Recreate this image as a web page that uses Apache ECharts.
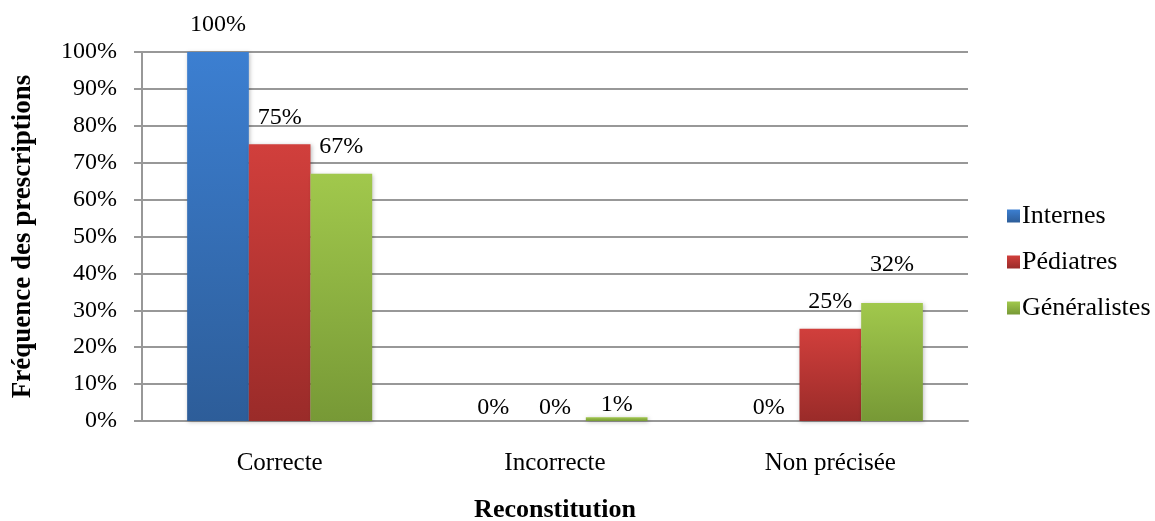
<!DOCTYPE html>
<html><head><meta charset="utf-8">
<script src="https://cdn.jsdelivr.net/npm/echarts@6/dist/echarts.min.js"></script>
<style>html,body{margin:0;padding:0;background:#fff}#c{width:1155px;height:521px}</style>
</head><body><div id="c"></div>
<script>
const categories = ['Correcte', 'Incorrecte', 'Non précisée'];
const seriesNames = ['Internes', 'Pédiatres', 'Généralistes'];
const internes = [100, 0, 0];
const pediatres = [75, 0, 25];
const generalistes = [67, 1, 32];
const yTicks = [0, 10, 20, 30, 40, 50, 60, 70, 80, 90, 100];

const FONT = '"Liberation Serif", "Times New Roman", serif';
const grads = [
  ['#3c7fd1', '#2d5d99'],
  ['#d13f3c', '#9a2b29'],
  ['#a1c84c', '#779936']
];
function grad(i) {
  return new echarts.graphic.LinearGradient(0, 0, 0, 1, [
    {offset: 0, color: grads[i][0]}, {offset: 1, color: grads[i][1]}
  ]);
}
const values = [internes, pediatres, generalistes];
const chart = echarts.init(document.getElementById('c'), null, {renderer: 'canvas'});
chart.setOption({
  animation: false,
  textStyle: {fontFamily: FONT, color: '#000'},
  grid: {left: 142, right: 187, top: 52, bottom: 100, containLabel: false, outerBoundsMode: 'none'},
  legend: {
    orient: 'vertical', left: 1002, top: 198, itemGap: 20, itemWidth: 13, itemHeight: 13,
    icon: 'rect',
    textStyle: {fontFamily: FONT, fontSize: 26, color: '#000', padding: [0, 0, 0, -3]},
    data: seriesNames
  },
  xAxis: {
    type: 'category', data: categories,
    name: 'Reconstitution', nameLocation: 'middle', nameGap: 76,
    nameTextStyle: {fontFamily: FONT, fontSize: 26, fontWeight: 'bold', color: '#000'},
    axisLine: {lineStyle: {color: '#989898', width: 2}},
    axisTick: {show: false},
    axisLabel: {fontFamily: FONT, fontSize: 25, color: '#000', margin: 30}
  },
  yAxis: {
    type: 'value', min: 0, max: 100, interval: 10,
    name: 'Fréquence des prescriptions', nameLocation: 'middle', nameGap: 105, nameRotate: 90,
    nameTextStyle: {fontFamily: FONT, fontSize: 27, fontWeight: 'bold', color: '#000'},
    axisLine: {show: true, lineStyle: {color: '#989898', width: 2}},
    axisTick: {show: true, length: 8, lineStyle: {color: '#989898', width: 2}},
    splitLine: {lineStyle: {color: '#989898', width: 2}},
    axisLabel: {fontFamily: FONT, fontSize: 24, color: '#000', margin: 25,
      formatter: v => yTicks.includes(v) ? v + '%' : ''}
  },
  series: seriesNames.map((n, i) => ({
    name: n, type: 'bar', barGap: '0%', barCategoryGap: '32.8%',
    itemStyle: {color: grad(i), shadowColor: 'rgba(0,0,0,0.25)', shadowBlur: 4, shadowOffsetX: 1, shadowOffsetY: 1},
    label: {show: true, position: 'top', distance: 15, fontFamily: FONT, fontSize: 24, color: '#000',
      formatter: p => p.value + '%'},
    data: values[i].map((v, j) => {
      const item = {value: v};
      if (i === 2 && j === 2) item.label = {distance: 26};
      if (v <= 1) item.label = {distance: 1};
      return item;
    })
  }))
});
</script></body></html>
